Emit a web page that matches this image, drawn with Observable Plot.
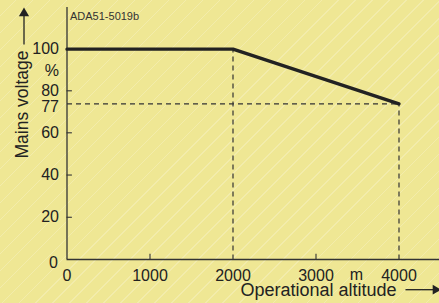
<!DOCTYPE html>
<html>
<head>
<meta charset="utf-8">
<script src="https://cdn.jsdelivr.net/npm/d3@7"></script>
<script src="https://cdn.jsdelivr.net/npm/@observablehq/plot@0.6"></script>
<style>
  html, body { margin: 0; padding: 0; }
  body {
    width: 439px; height: 303px; overflow: hidden;
    background-color: #efe794;
    background-image: repeating-linear-gradient(135deg, rgba(255,255,255,0) 0px, rgba(255,255,255,0) 11px, rgba(255,255,255,0.22) 11px, rgba(255,255,255,0.22) 12px);
  }
  svg { display: block; }
</style>
</head>
<body>
<div id="chart"></div>
<script>
// Derating curve: mains voltage (%) vs operational altitude (m)
const altitude = [0, 2000, 4000];
const voltage = [100, 100, 77];

const xTickLabels = [0, 1000, 2000, 3000, 4000];
const yTickLabels = [0, 20, 40, 60, 80, 100];
const yMarkLabel = 77;
const xInnerTicks = [1000, 3000];
const yInnerTicks = [20, 40, 60, 80];

const xUnit = "m";
const yUnit = "%";
const xTitle = "Operational altitude";
const yTitle = "Mains voltage";
const code = "ADA51-5019b";

// The original drawing is schematic: the 77 % level sits lower than a strict linear scale.
const yDomain = [0, 60, 77, 80, 120];
const yRange = [259, 132.3, 103.3, 90.3, 7];

const curve = altitude.map((a, i) => ({a, v: voltage[i]}));
const knee = curve[1], end = curve[2];
const guides = [
  {x1: knee.a, y1: 0, x2: knee.a, y2: knee.v},
  {x1: end.a, y1: 0, x2: end.a, y2: end.v},
  {x1: 0, y1: end.v, x2: end.a, y2: end.v}
];

const ink = "#222";
const font = "Liberation Sans, Arial, Helvetica, sans-serif";

const chart = Plot.plot({
  width: 439,
  height: 303,
  marginLeft: 66.5,
  marginRight: 0,
  marginTop: 7,
  marginBottom: 44,
  style: {background: "transparent", fontFamily: font, color: ink, overflow: "visible"},
  x: {type: "linear", domain: [0, 4488], axis: null},
  y: {type: "linear", domain: yDomain, range: yRange, axis: null},
  marks: [
    // dashed guides
    Plot.link(guides, {x1: "x1", y1: "y1", x2: "x2", y2: "y2", stroke: "#333", strokeWidth: 1.2, strokeDasharray: "5,4"}),
    // axes lines
    Plot.ruleX([0], {stroke: "#333", strokeWidth: 1.3}),
    Plot.ruleY([0], {stroke: "#333", strokeWidth: 1.3}),
    // inner ticks
    Plot.ruleY(yInnerTicks, {y: d => d, x1: 0, x2: 65, stroke: "#333", strokeWidth: 1.1}),
    Plot.ruleX(xInnerTicks, {x: d => d, y1: 0, y2: 2.5, stroke: "#333", strokeWidth: 1.1}),
    // curve
    Plot.line(curve, {x: "a", y: "v", stroke: ink, strokeWidth: 3.4, strokeLinejoin: "miter"}),
    // y tick labels
    Plot.text(yTickLabels.filter(d => d !== 0), {x: 0, y: d => d, text: d => String(d), dx: -8, textAnchor: "end", fontSize: 16, fill: ink}),
    Plot.text(yTickLabels.filter(d => d === 0), {x: 0, y: d => d, text: d => String(d), dx: -9, dy: 3, textAnchor: "end", fontSize: 16, fill: ink}),
    Plot.text([yMarkLabel], {x: 0, y: d => d, text: d => String(d), dx: -8, dy: 3, textAnchor: "end", fontSize: 16, fill: ink}),
    Plot.text([yUnit], {x: 0, y: 90, text: d => d, dx: -8, dy: 1, textAnchor: "end", fontSize: 16, fill: ink}),
    // x tick labels
    Plot.text(xTickLabels, {x: d => d, y: 0, text: d => String(d), dy: 16, fontSize: 16, fill: ink}),
    Plot.text([xUnit], {x: 3488, y: 0, text: d => d, dy: 15.5, fontSize: 16, fill: ink}),
    // titles
    Plot.text([xTitle], {frameAnchor: "bottom-right", text: d => d, textAnchor: "end", dx: -43, dy: 36, fontSize: 18, fill: ink}),
    Plot.text([yTitle], {frameAnchor: "top-left", text: d => d, textAnchor: "start", rotate: -90, dx: -51, dy: 151, fontSize: 17.5, fill: ink}),
    Plot.text([code], {frameAnchor: "top-left", text: d => d, textAnchor: "start", dx: 3, dy: 5, fontSize: 11, fill: "#333"}),
    // title arrows
    Plot.link([{x1: 4078, y1: -14.3, x2: 4440, y2: -14.3}], {x1: "x1", y1: "y1", x2: "x2", y2: "y2", stroke: ink, strokeWidth: 1.3}),
    Plot.dot([{x: 4440, y: -14.3}], {x: "x", y: "y", symbol: "triangle", rotate: 90, r: 3.6, fill: ink, stroke: "none"}),
    Plot.link([{x1: -518, y1: 102.2, x2: -518, y2: 116}], {x1: "x1", y1: "y1", x2: "x2", y2: "y2", stroke: ink, strokeWidth: 1.3}),
    Plot.dot([{x: -518, y: 117.2}], {x: "x", y: "y", symbol: "triangle", rotate: 0, r: 3.8, fill: ink, stroke: "none"})
  ]
});
document.getElementById("chart").appendChild(chart);
</script>
</body>
</html>
